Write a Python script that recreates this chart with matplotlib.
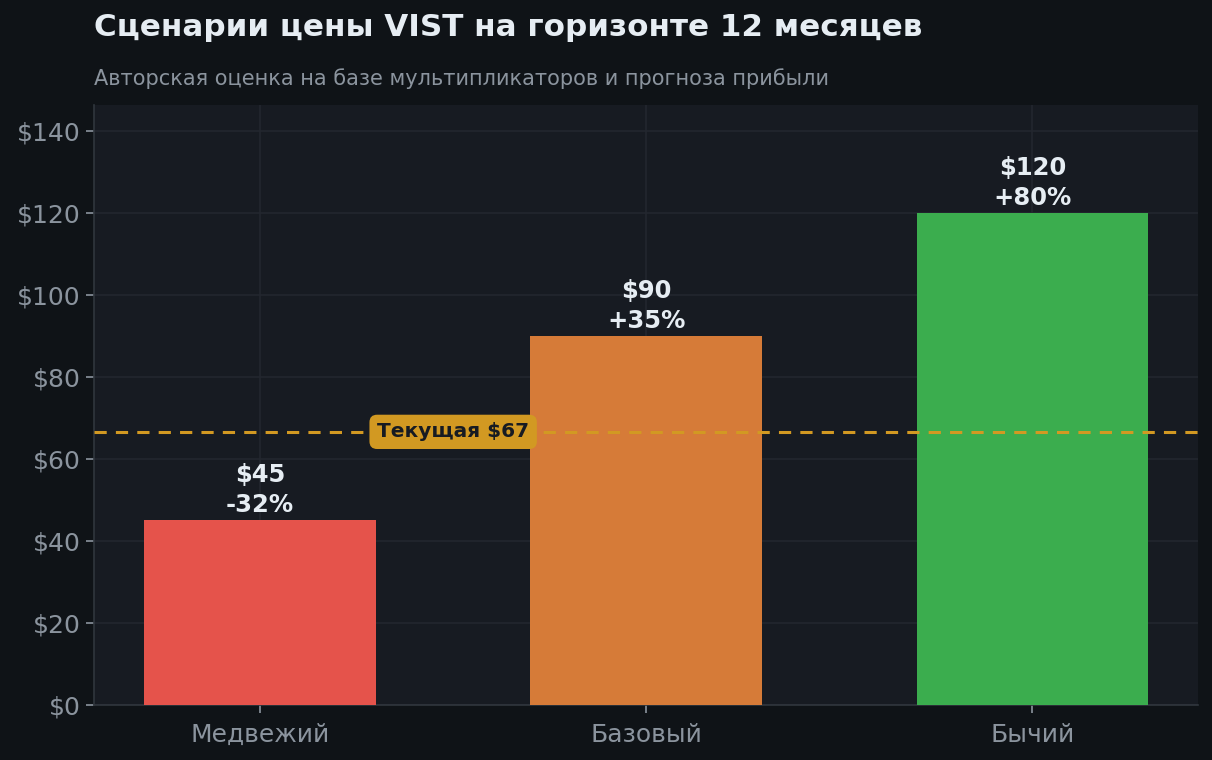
import matplotlib.pyplot as plt
import numpy as np

# данные
scenarios = ['Медвежий', 'Базовый', 'Бычий']
targets = [45, 90, 120]
current_price = 66.6
bar_colors = ['#e5534b', '#d67b38', '#3bad4e']

plt.rcParams['font.family'] = ['DejaVu Sans']

fig = plt.figure(figsize=(12.12, 7.6), dpi=100, facecolor='#0f1317')
ax = fig.add_axes([0.0776, 0.0724, 0.9112, 0.7894])
ax.set_facecolor('#171b22')

x = np.arange(len(scenarios))
ax.bar(x, targets, width=0.6, color=bar_colors, zorder=3)

for xi, val in zip(x, targets):
    pct = (val / current_price - 1) * 100
    ax.text(xi, val + 0.8, f'${val}\n{pct:+.0f}%', ha='center', va='bottom',
            color='#e6edf3', fontsize=17.5, fontweight='bold', linespacing=1.3, zorder=4)

ax.axhline(current_price, color='#d29922', ls='--', lw=2.2, dashes=(4, 3), zorder=4)
ax.text(0.5, current_price, f'Текущая ${current_price:.0f}', ha='center', va='center',
        fontsize=14.5, fontweight='bold', color='#171b22', zorder=5,
        bbox=dict(boxstyle='round,pad=0.38', fc='#d29922', ec='none'))

ax.set_ylim(0, 146.3)
ax.set_xticks(x)
ax.set_xticklabels(scenarios)
ax.set_yticks(np.arange(0, 141, 20))
ax.set_yticklabels([f'${v}' for v in range(0, 141, 20)])
ax.tick_params(colors='#8b949e', labelsize=18, length=6, width=1.2)
ax.tick_params(axis='x', pad=7)
ax.grid(True, color='#23272f', lw=1.2, zorder=0)
for s in ['top', 'right']:
    ax.spines[s].set_visible(False)
for s in ['left', 'bottom']:
    ax.spines[s].set_color('#30363d')
    ax.spines[s].set_linewidth(1.2)

fig.text(0.0776, 0.964, 'Сценарии цены VIST на горизонте 12 месяцев', ha='left', va='center',
         fontsize=22.3, fontweight='bold', color='#e6edf3')
fig.text(0.0776, 0.897, 'Авторская оценка на базе мультипликаторов и прогноза прибыли',
         ha='left', va='center', fontsize=15, color='#8b949e')

fig.savefig('out.png', dpi=100, facecolor=fig.get_facecolor())
